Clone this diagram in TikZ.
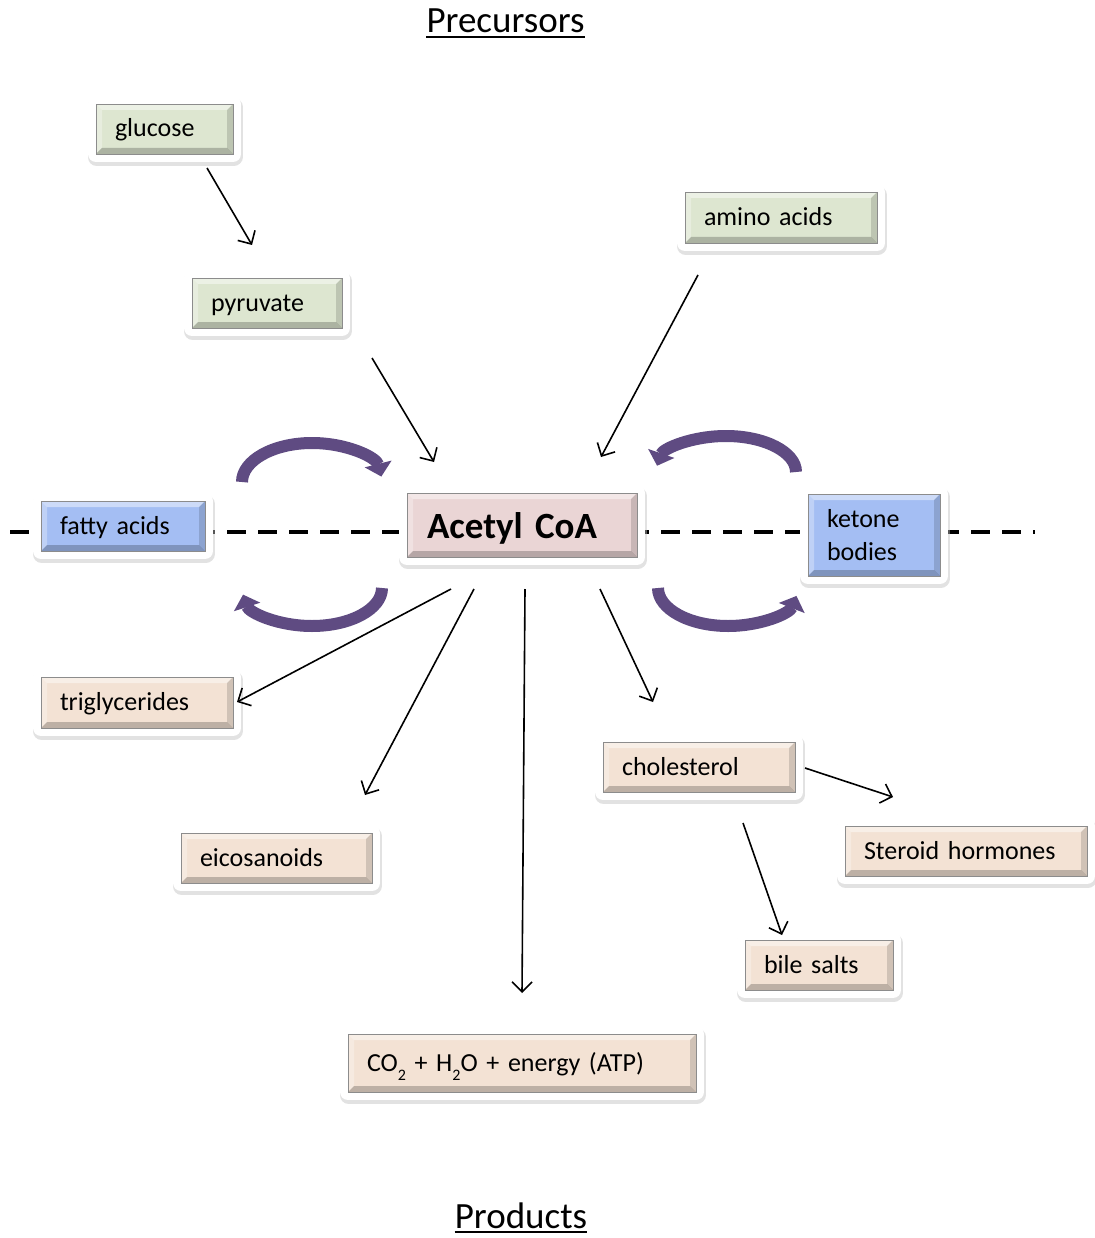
\documentclass[tikz,border=0pt]{standalone}
\usepackage{fontspec}
\setmainfont{Carlito}
\usetikzlibrary{arrows.meta,calc}
\definecolor{gfill}{HTML}{DDE6D0}
\definecolor{pfill}{HTML}{F3E2D4}
\definecolor{kfill}{HTML}{EAD5D5}
\definecolor{bfill}{HTML}{A4BEF3}
\definecolor{arcpurple}{RGB}{95,75,130}
\tikzset{
  basebox/.style={
    preaction={draw=black!25, line width=18pt, line join=round, opacity=0.45,
               transform canvas={shift={(0.5pt,-3pt)}}},
    preaction={draw=white, line width=16pt, line join=round},
    draw=black!45, line width=0.8pt, inner xsep=19pt, inner ysep=0pt,
    align=left, text height=20pt, text depth=4pt,
    font=\fontsize{26}{33}\selectfont,
    path picture={
      \fill[white,opacity=0.45] (path picture bounding box.north west) -- (path picture bounding box.north east)
        -- ([shift={(-6pt,-6pt)}]path picture bounding box.north east) -- ([shift={(6pt,-6pt)}]path picture bounding box.north west) -- cycle;
      \fill[white,opacity=0.3] (path picture bounding box.north west) -- (path picture bounding box.south west)
        -- ([shift={(6pt,6pt)}]path picture bounding box.south west) -- ([shift={(6pt,-6pt)}]path picture bounding box.north west) -- cycle;
      \fill[black,opacity=0.22] (path picture bounding box.south west) -- (path picture bounding box.south east)
        -- ([shift={(-6pt,6pt)}]path picture bounding box.south east) -- ([shift={(6pt,6pt)}]path picture bounding box.south west) -- cycle;
      \fill[black,opacity=0.14] (path picture bounding box.north east) -- (path picture bounding box.south east)
        -- ([shift={(-6pt,6pt)}]path picture bounding box.south east) -- ([shift={(-6pt,-6pt)}]path picture bounding box.north east) -- cycle;
    }},
  gbox/.style={basebox, fill=gfill},
  pbox/.style={basebox, fill=pfill},
  kbox/.style={basebox, fill=kfill},
  bbox/.style={basebox, fill=bfill},
  arr/.style={draw=black, line width=1.6pt, -{Straight Barb[length=10pt,width=20pt]}},
  parc/.style={draw=arcpurple, line width=12pt, -{Triangle[length=13pt,width=27pt]}},
  dashline/.style={draw=black, line width=3.5pt, dash pattern=on 19pt off 12pt},
  title/.style={inner sep=0pt, anchor=base, font=\fontsize{37}{40}\selectfont},
  uline/.style={draw=black, line width=2.5pt}
}
\begin{document}
\begin{tikzpicture}[x=1pt,y=-1pt]
\useasboundingbox (0,0) rectangle (1094,1238);
\fill[white] (0,0) rectangle (1094,1238);

% dashed line
\coordinate (dl) at (10,532);
\coordinate (dr) at (1035,532);
\draw[dashline] (dl) -- (dr);

% titles
\node[title] (precursors) at (505.5,33) {Precursors};
\draw[uline] ([yshift=-4pt]precursors.base west) -- ([yshift=-4pt]precursors.base east);
\node[title] (products) at (521,1228) {Products};
\draw[uline] ([yshift=-4pt]products.base west) -- ([yshift=-4pt]products.base east);

% boxes
\node[gbox, text width=99pt, minimum height=50pt] (glucose) at (164.5,129) {glucose};
\node[gbox, text width=112pt, minimum height=50pt] (pyruvate) at (267,303) {pyruvate};
\node[gbox, text width=154pt, minimum height=51pt] (amino) at (781,217.5) {amino acids};
\node[bbox, text width=126pt, minimum height=50pt] (fatty) at (123,526) {fatty acids};
\node[kbox, text width=190pt, minimum height=64pt, inner xsep=20pt, text height=30pt, text depth=4pt,
      font=\fontsize{37}{40}\selectfont\bfseries] (acetyl) at (522,525) {Acetyl CoA};
\node[bbox, text width=94pt, minimum height=82pt, text height=, text depth=] (ketone) at (874,535) {ketone\\bodies};
\node[pbox, text width=154pt, minimum height=51pt] (trig) at (137,702.5) {triglycerides};
\node[pbox, text width=153pt, minimum height=50pt] (eico) at (276.5,858) {eicosanoids};
\node[pbox, text width=154pt, minimum height=50pt] (chol) at (699,767) {cholesterol};
\node[pbox, text width=204pt, minimum height=50pt] (steroid) at (966,851) {Steroid hormones};
\node[pbox, text width=110pt, minimum height=50pt] (bile) at (819,965) {bile salts};
\node[pbox, text width=310pt, minimum height=58pt] (co2) at (522,1063)
  {CO\raisebox{-0.35em}{\fontsize{16}{16}\selectfont 2} + H\raisebox{-0.35em}{\fontsize{16}{16}\selectfont 2}O + energy (ATP)};

% purple cycle arrows
\draw[parc] (242,482) arc[start angle=180, end angle=352, x radius=70, y radius=39];
\draw[parc] (382,588) arc[start angle=0, end angle=170, x radius=70, y radius=38];
\draw[parc] (796,472) arc[start angle=0, end angle=-170, x radius=70, y radius=36];
\draw[parc] (658,588) arc[start angle=180, end angle=12, x radius=70, y radius=38];

% connectors
\draw[arr] ($(glucose)+(42.5,39)$) -- ($(pyruvate)+(-15,-58)$);
\draw[arr] ($(pyruvate)+(105,55)$) -- ($(acetyl)+(-88,-63)$);
\draw[arr] ($(amino)+(-83,57.5)$) -- ($(acetyl)+(79,-68)$);
\draw[arr] ($(acetyl)+(-71,64)$) -- ($(trig)+(100,-0.5)$);
\draw[arr] ($(acetyl)+(-48,64)$) -- ($(eico)+(88.5,-63)$);
\draw[arr] ($(acetyl)+(3,64)$) -- ($(co2)+(0,-70)$);
\draw[arr] ($(acetyl)+(78,64)$) -- ($(chol)+(-46,-65)$);
\draw[arr] ($(chol)+(106,1)$) -- ($(steroid)+(-73,-54)$);
\draw[arr] ($(chol)+(44,56)$) -- ($(bile)+(-37,-30)$);
\end{tikzpicture}
\end{document}
